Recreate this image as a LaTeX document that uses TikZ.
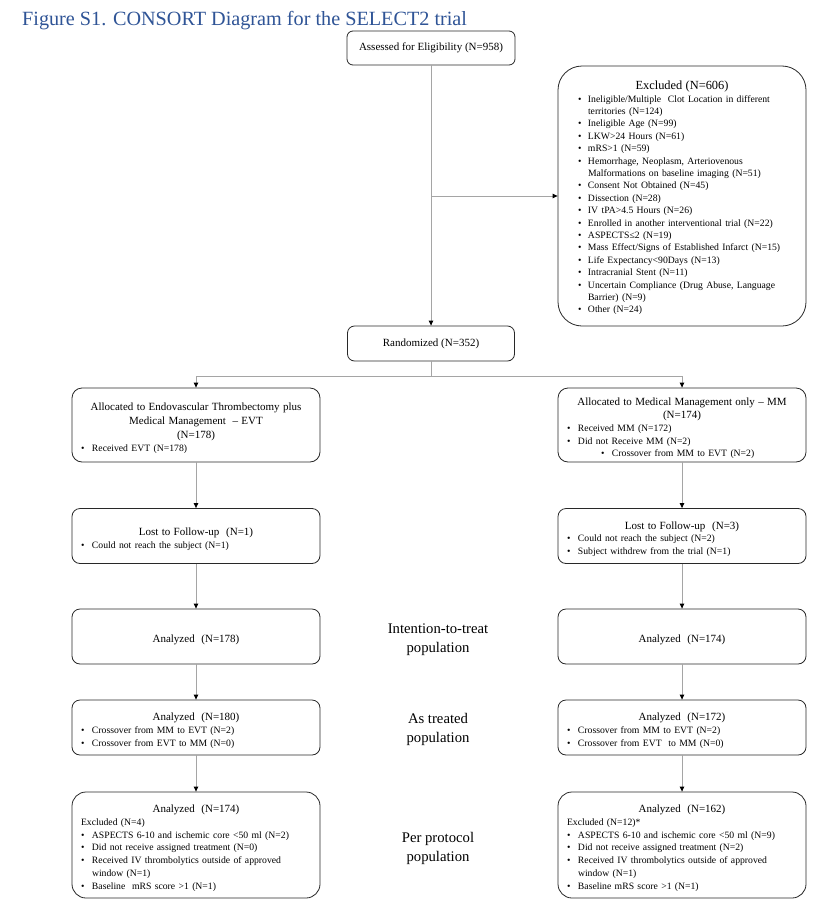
\documentclass[tikz,border=0pt]{standalone}
\usepackage{fontspec}
\setmainfont{Liberation Serif}
\usetikzlibrary{arrows.meta,calc}
\definecolor{titleblue}{RGB}{47,84,150}
\definecolor{linegray}{RGB}{165,165,165}
\definecolor{boxline}{RGB}{40,40,40}
\newlength{\bgap}
\setlength{\bgap}{11pt}
\newcommand{\bitem}[2][0pt]{\par\hangindent=\dimexpr#1+\bgap\relax\hangafter=1\noindent\hspace*{#1}\makebox[\bgap][l]{\textbullet}#2}
\newcommand{\btitle}[1]{{\centering\fontsize{11}{13.8}\selectfont\rule{0pt}{14pt}#1\par}}
\newcommand{\bsmall}{\fontsize{9.7}{12.7}\selectfont}
\tikzset{
  box/.style={draw=boxline, line width=0.8pt, rounded corners=8pt, inner ysep=0pt, fill=white},
  wbox/.style={box, minimum width=248pt, text width=230pt, inner xsep=9pt},
  arr/.style={draw=linegray, line width=0.9pt, -{Triangle[length=5pt,width=4.5pt,color=black]}},
  plain/.style={draw=linegray, line width=0.9pt},
  poplabel/.style={align=center, font=\fontsize{14.7}{19}\selectfont, inner sep=0pt}
}
\begin{document}
\begin{tikzpicture}[x=1pt,y=-1pt]
\useasboundingbox (0,0) rectangle (834,910);
\fill[white] (0,0) rectangle (834,910);

\node[anchor=base west, inner sep=0pt, text=titleblue, font=\fontsize{20.2}{24}\selectfont] (title) at (22,25) {Figure S1. CONSORT Diagram for the SELECT2 trial};

\node[box, rounded corners=6pt, minimum width=168pt, minimum height=34pt, font=\fontsize{11}{13}\selectfont] (assess) at (431,48) {Assessed for Eligibility (N=958)};

\node[box, rounded corners=24pt, minimum width=248pt, minimum height=260pt, text width=208pt, inner xsep=20pt] (excl) at (682,196) {{\centering\fontsize{12.4}{13.5}\selectfont\rule{0pt}{12.5pt}Excluded (N=606)\par}\fontsize{9.7}{12.4}\selectfont\setlength{\bgap}{10pt}%
\bitem{Ineligible/Multiple\ \ Clot Location in different\newline territories (N=124)}%
\bitem{Ineligible Age (N=99)}%
\bitem{LKW>24 Hours (N=61)}%
\bitem{mRS>1 (N=59)}%
\bitem{Hemorrhage, Neoplasm, Arteriovenous\newline Malformations on baseline imaging (N=51)}%
\bitem{Consent Not Obtained (N=45)}%
\bitem{Dissection (N=28)}%
\bitem{IV tPA>4.5 Hours (N=26)}%
\bitem{Enrolled in another interventional trial (N=22)}%
\bitem{ASPECTS≤2 (N=19)}%
\bitem{Mass Effect/Signs of Established Infarct (N=15)}%
\bitem{Life Expectancy<90Days (N=13)}%
\bitem{Intracranial Stent (N=11)}%
\bitem{Uncertain Compliance (Drug Abuse, Language\newline Barrier) (N=9)}%
\bitem{Other (N=24)}\par};

\node[box, rounded corners=7pt, minimum width=167pt, minimum height=35pt, font=\fontsize{11}{13}\selectfont] (rand) at (431,343.5) {Randomized (N=352)};

% allocation
\node[wbox, rounded corners=10pt, minimum height=74pt] (allocL) at (196,425) {\btitle{Allocated to Endovascular Thrombectomy plus\par Medical Management \ – EVT\par (N=178)}\bsmall\bitem{Received EVT (N=178)}\par};
\node[wbox, rounded corners=10pt, minimum height=74pt] (allocR) at (682,425) {\btitle{Allocated to Medical Management only – MM\par (N=174)}\bsmall\bitem{Received MM (N=172)}\bitem{Did not Receive MM (N=2)}\bitem[34pt]{Crossover from MM to EVT (N=2)}\par};

% lost
\node[wbox, minimum height=55pt] (lostL) at (196,536) {\btitle{Lost to Follow-up \ (N=1)}\bsmall\bitem{Could not reach the subject (N=1)}\par};
\node[wbox, minimum height=55pt] (lostR) at (682,536) {\btitle{Lost to Follow-up \ (N=3)}\bsmall\bitem{Could not reach the subject (N=2)}\bitem{Subject withdrew from the trial (N=1)}\par};

% ITT
\node[wbox, minimum height=55pt] (ittL) at (196,636.5) {\btitle{Analyzed \ (N=178)}};
\node[wbox, minimum height=55pt] (ittR) at (682,636.5) {\btitle{Analyzed \ (N=174)}};

% as treated
\node[wbox, minimum height=55pt] (atL) at (196,727.5) {\btitle{Analyzed \ (N=180)}\bsmall\bitem{Crossover from MM to EVT (N=2)}\bitem{Crossover from EVT to MM (N=0)}\par};
\node[wbox, minimum height=55pt] (atR) at (682,727.5) {\btitle{Analyzed \ (N=172)}\bsmall\bitem{Crossover from MM to EVT (N=2)}\bitem{Crossover from EVT \ to MM (N=0)}\par};

% per protocol
\node[wbox, rounded corners=14pt, minimum height=106pt] (ppL) at (196,845) {\btitle{Analyzed \ (N=174)}\bsmall\par\noindent Excluded (N=4)%
\bitem{ASPECTS 6-10 and ischemic core <50 ml (N=2)}%
\bitem{Did not receive assigned treatment (N=0)}%
\bitem{Received IV thrombolytics outside of approved\newline window (N=1)}%
\bitem{Baseline \ mRS score >1 (N=1)}\par};
\node[wbox, rounded corners=14pt, minimum height=106pt] (ppR) at (682,845) {\btitle{Analyzed \ (N=162)}\bsmall\par\noindent Excluded (N=12)*%
\bitem{ASPECTS 6-10 and ischemic core <50 ml (N=9)}%
\bitem{Did not receive assigned treatment (N=2)}%
\bitem{Received IV thrombolytics outside of approved\newline window (N=1)}%
\bitem{Baseline mRS score >1 (N=1)}\par};

% population labels
\node[poplabel] (lblitt) at (438,640) {Intention-to-treat\\population};
\node[poplabel] (lblat) at (438,729.5) {As treated\\population};
\node[poplabel] (lblpp) at (438,848) {Per protocol\\population};

% connectors
\draw[arr] (assess.south) -- (rand.north);
\coordinate (brk) at (assess.south |- excl.west);
\draw[arr] (brk) -- (excl.west);
\coordinate (split) at ($(rand.south)+(0,15)$);
\draw[plain] (rand.south) -- (split);
\draw[arr] (split) -| (allocL.north);
\draw[arr] (split) -| (allocR.north);
\draw[arr] (allocL.south) -- (lostL.north);
\draw[arr] (allocR.south) -- (lostR.north);
\draw[arr] (lostL.south) -- (ittL.north);
\draw[arr] (lostR.south) -- (ittR.north);
\draw[arr] (ittL.south) -- (atL.north);
\draw[arr] (ittR.south) -- (atR.north);
\draw[arr] (atL.south) -- (ppL.north);
\draw[arr] (atR.south) -- (ppR.north);
\end{tikzpicture}
\end{document}
